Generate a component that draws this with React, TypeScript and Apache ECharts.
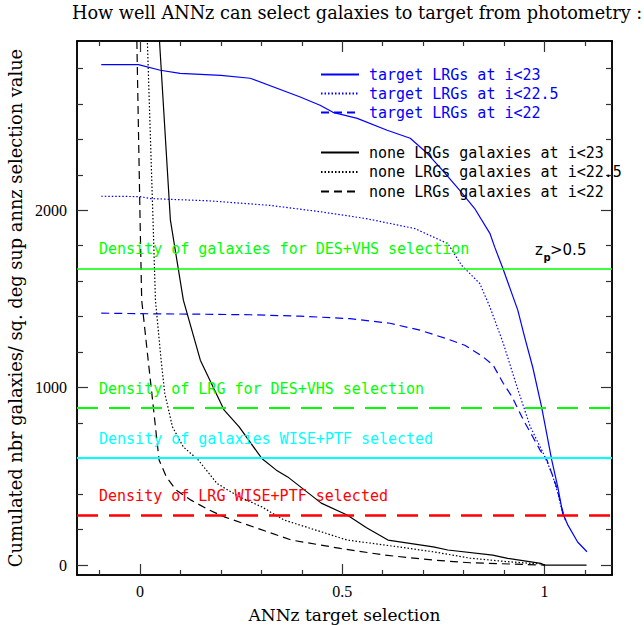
import React, { useEffect, useRef } from 'react';
import * as echarts from 'echarts';

// ---- data ----
const blueSolidX = [-0.096, -0.004, 0.05, 0.099, 0.2, 0.272, 0.396, 0.445, 0.477, 0.537, 0.611, 0.668, 0.71, 0.748, 0.79, 0.827, 0.865, 0.877, 0.897, 0.934, 0.951, 0.971, 0.993, 1.018, 1.033, 1.045, 1.058, 1.082, 1.105];
const blueSolidY = [2821, 2821, 2789, 2772, 2760, 2744, 2638, 2592, 2552, 2518, 2451, 2406, 2321, 2225, 2113, 2011, 1870, 1792, 1673, 1437, 1285, 1115, 890, 592, 439, 293, 225, 130, 75];

const blueDotX = [-0.096, 0.0, 0.024, 0.171, 0.319, 0.448, 0.559, 0.679, 0.761, 0.795, 0.84, 0.865, 0.898, 0.932, 0.965, 0.997, 1.018, 1.033, 1.045, 1.055];
const blueDotY = [2079, 2077, 2066, 2053, 2028, 1991, 1953, 1897, 1812, 1690, 1587, 1455, 1251, 1005, 779, 631, 518, 406, 293, 240];

const blueDashX = [-0.096, 0.0, 0.149, 0.272, 0.396, 0.519, 0.618, 0.692, 0.754, 0.803, 0.848, 0.873, 0.898, 0.92, 0.948, 0.971, 0.989, 1.006, 1.018, 1.03, 1.042, 1.052];
const blueDashY = [1420, 1417, 1414, 1411, 1403, 1389, 1363, 1324, 1279, 1239, 1174, 1127, 1025, 948, 817, 723, 648, 592, 518, 441, 328, 253];

const blackSolidX = [0.044, 0.048, 0.075, 0.107, 0.149, 0.208, 0.245, 0.301, 0.337, 0.365, 0.448, 0.512, 0.56, 0.613, 0.725, 0.761, 0.872, 0.909, 0.991, 1.0, 1.104];
const blackSolidY = [3100, 2954, 1944, 1493, 1155, 873, 779, 601, 535, 497, 349, 282, 210, 141, 103, 85, 56, 38, 10, 0, 0];

const blackDotX = [0.016, 0.018, 0.032, 0.038, 0.052, 0.061, 0.08, 0.107, 0.144, 0.19, 0.245, 0.301, 0.356, 0.512, 0.605, 0.725, 0.816, 0.909, 0.991, 1.0];
const blackDotY = [3100, 2954, 1944, 1493, 1155, 969, 779, 666, 592, 460, 385, 328, 254, 141, 113, 75, 39, 19, 6, 0];

const blackDashX = [-0.01, -0.008, 0.0, 0.004, 0.02, 0.029, 0.038, 0.047, 0.065, 0.089, 0.126, 0.171, 0.208, 0.374, 0.495, 0.605, 0.725, 0.816, 1.0];
const blackDashY = [3100, 2954, 1944, 1493, 1155, 969, 779, 592, 497, 423, 366, 310, 272, 141, 94, 56, 28, 13, 0];

const densityValues = [1673, 885, 603, 282];
const densityLabels = [
  'Density of galaxies for DES+VHS selection',
  'Density of LRG for DES+VHS selection',
  'Density of galaxies WISE+PTF selected',
  'Density of LRG WISE+PTF selected',
];

const seriesNames = [
  'target LRGs at i<23',
  'target LRGs at i<22.5',
  'target LRGs at i<22',
  'none LRGs galaxies at i<23',
  'none LRGs galaxies at i<22.5',
  'none LRGs galaxies at i<22',
];

const xMajorTicks = [0, 0.5, 1];
const xMinorTicks = [-0.1, 0.1, 0.2, 0.3, 0.4, 0.6, 0.7, 0.8, 0.9, 1.1];
const yMajorTicks = [0, 1000, 2000];
const yMinorTicks = [200, 400, 600, 800, 1200, 1400, 1600, 1800, 2200, 2400, 2600, 2800];

const X_MIN = -0.156;
const X_MAX = 1.167;
const Y_MIN = -56;
const Y_MAX = 2954;

function pairs(xs: number[], ys: number[]) {
  return xs.map((x, i) => [x, ys[i]]);
}

const SERIF = 'DejaVu Serif';
const TICKFONT = 'Liberation Serif';
const MONO = 'DejaVu Sans Mono';

function xAx(position: string, ticks: number[], len: number, labels: boolean, extra: any = {}) {
  return {
    type: 'value',
    position,
    min: X_MIN,
    max: X_MAX,
    axisLine: { show: true, onZero: false, lineStyle: { color: '#000', width: 1.5 } },
    axisTick: { show: true, inside: true, length: len, customValues: ticks, lineStyle: { color: '#333', width: 1.2 } },
    axisLabel: labels
      ? { show: true, customValues: xMajorTicks, margin: 8, fontFamily: TICKFONT, fontSize: 16, color: '#000', formatter: (v: number) => String(v) }
      : { show: false },
    splitLine: { show: false },
    ...extra,
  };
}

function yAx(position: string, ticks: number[], len: number, labels: boolean, extra: any = {}) {
  return {
    type: 'value',
    position,
    min: Y_MIN,
    max: Y_MAX,
    axisLine: { show: true, onZero: false, lineStyle: { color: '#000', width: 1.5 } },
    axisTick: { show: true, inside: true, length: len, customValues: ticks, lineStyle: { color: '#333', width: 1.2 } },
    axisLabel: labels
      ? { show: true, customValues: yMajorTicks, margin: 10, fontFamily: TICKFONT, fontSize: 16, color: '#000', formatter: (v: number) => String(v) }
      : { show: false },
    splitLine: { show: false },
    ...extra,
  };
}

function curve(name: string, xs: number[], ys: number[], color: string, type: any) {
  return {
    name,
    type: 'line',
    xAxisIndex: 0,
    yAxisIndex: 0,
    data: pairs(xs, ys),
    symbol: 'none',
    showSymbol: false,
    clip: true,
    lineStyle: { color, width: 1.2, type },
    itemStyle: { color },
    z: 3,
  };
}

const densityColors = ['#00ff00', '#00ff00', '#00ffff', '#ff0000'];
const densityTypes: any[] = ['solid', [21, 11], 'solid', [21, 11]];
const densityWidths = [1.6, 1.8, 1.8, 2.6];

export default function App() {
  const ref = useRef<HTMLDivElement>(null);
  useEffect(() => {
    document.body.style.margin = '0';
    const chart = echarts.init(ref.current as HTMLDivElement, null, { renderer: 'svg' });
    const dotted = [1.5, 2];
    const dashed = [8, 5];
    const option: any = {
      animation: false,
      backgroundColor: '#ffffff',
      title: {
        text: 'How well ANNz can select galaxies to target from photometry :',
        left: 72,
        top: 4,
        padding: 0,
        textStyle: { fontFamily: SERIF, fontSize: 17.7, fontWeight: 'normal', color: '#000' },
      },
      grid: { left: 77, right: 32, top: 41, bottom: 50, containLabel: false, outerBoundsMode: 'none' },
      xAxis: [
        xAx('bottom', xMajorTicks, 11, true, {
          name: 'ANNz target selection',
          nameLocation: 'middle',
          nameGap: 31,
          nameTextStyle: { fontFamily: SERIF, fontSize: 17, color: '#000' },
        }),
        xAx('bottom', xMinorTicks, 5, false),
        xAx('top', xMajorTicks, 11, false),
        xAx('top', xMinorTicks, 5, false),
      ],
      yAxis: [
        yAx('left', yMajorTicks, 11, true, {
          name: 'Cumulated nbr galaxies/ sq. deg sup annz selection value',
          nameLocation: 'middle',
          nameGap: 47,
          nameTextStyle: { fontFamily: SERIF, fontSize: 17.8, color: '#000' },
        }),
        yAx('left', yMinorTicks, 6, false),
        yAx('right', yMajorTicks, 11, false),
        yAx('right', yMinorTicks, 6, false),
      ],
      legend: [
        {
          data: seriesNames.slice(0, 3),
          orient: 'vertical',
          left: 320,
          top: 67,
          padding: 0,
          itemWidth: 38,
          itemHeight: 14,
          itemGap: 4,
          selectedMode: false,
          itemStyle: { opacity: 0 },
          textStyle: { color: '#0000ff', fontFamily: MONO, fontSize: 15, padding: [0, 0, 0, 5] },
        },
        {
          data: seriesNames.slice(3, 6),
          orient: 'vertical',
          left: 320,
          top: 145,
          padding: 0,
          itemWidth: 38,
          itemHeight: 14,
          itemGap: 4.5,
          selectedMode: false,
          itemStyle: { opacity: 0 },
          textStyle: { color: '#000000', fontFamily: MONO, fontSize: 15, padding: [0, 0, 0, 5] },
        },
      ],
      graphic: [
        { type: 'text', x: 535, y: 250, style: { text: 'z', font: '15px "DejaVu Sans"', fill: '#000', verticalAlign: 'middle' } },
        { type: 'text', x: 543.5, y: 257, style: { text: 'p', font: 'bold 10px "DejaVu Sans"', fill: '#000', verticalAlign: 'middle' } },
        { type: 'text', x: 550, y: 250, style: { text: '>0.5', font: '15px "DejaVu Sans"', fill: '#000', verticalAlign: 'middle' } },
      ],
      series: [
        curve(seriesNames[0], blueSolidX, blueSolidY, '#0000ff', 'solid'),
        curve(seriesNames[1], blueDotX, blueDotY, '#0000ff', dotted),
        curve(seriesNames[2], blueDashX, blueDashY, '#0000ff', dashed),
        curve(seriesNames[3], blackSolidX, blackSolidY, '#000000', 'solid'),
        curve(seriesNames[4], blackDotX, blackDotY, '#000000', dotted),
        curve(seriesNames[5], blackDashX, blackDashY, '#000000', dashed),
        {
          name: 'density',
          type: 'line',
          data: [],
          xAxisIndex: 0,
          yAxisIndex: 0,
          z: 2,
          markLine: {
            silent: true,
            symbol: ['none', 'none'],
            animation: false,
            data: densityValues.map((v, i) => ({
              yAxis: v,
              lineStyle: { color: densityColors[i], width: densityWidths[i], type: densityTypes[i] },
              label: {
                show: true,
                position: 'insideStartTop',
                distance: [22, 12],
                formatter: densityLabels[i],
                color: densityColors[i],
                fontFamily: MONO,
                fontSize: 15,
              },
            })),
          },
        },
      ],
    };
    chart.setOption(option);
    return () => chart.dispose();
  }, []);
  return <div ref={ref} style={{ width: 644, height: 625 }} />;
}
